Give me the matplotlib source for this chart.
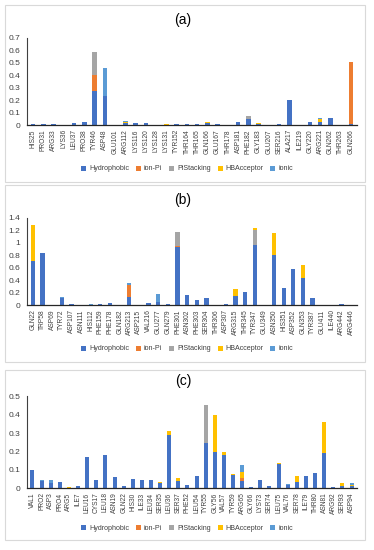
import numpy as np
import matplotlib
matplotlib.use('Agg')
import matplotlib.pyplot as plt
from matplotlib.patches import Rectangle
from matplotlib.ticker import FormatStrFormatter

plt.rcParams['font.family'] = ['Liberation Sans', 'DejaVu Sans']

series = ['Hydrophobic', 'ion-Pi', 'PiStacking', 'HBAcceptor', 'ionic']
colors = ['#4472C4', '#ED7D31', '#A5A5A5', '#FFC000', '#5B9BD5']

# panel (a)
labels_a = ['HIS25', 'PRO31', 'ARG33', 'LYS36', 'LEU37', 'PRO38', 'TYR46', 'ASP48',
            'GLU101', 'ARG112', 'LYS116', 'LYS120', 'LYS128', 'LYS131', 'TYR152',
            'THR164', 'THR165', 'GLN166', 'GLU167', 'THR178', 'ASP181', 'PHE182',
            'GLY183', 'GLU207', 'SER216', 'ALA217', 'ILE219', 'GLY220', 'ARG221',
            'GLN262', 'THR263', 'GLN266']
hydro_a = [0.005, 0.005, 0.008, 0.004, 0.015, 0.025, 0.27, 0.23, 0.0, 0.015, 0.015,
           0.015, 0.004, 0.0, 0.005, 0.008, 0.005, 0.015, 0.008, 0.004, 0.025, 0.05,
           0.005, 0.0, 0.012, 0.20, 0.004, 0.025, 0.025, 0.055, 0.004, 0.01]
ionpi_a = [0, 0, 0, 0, 0, 0, 0.13, 0, 0, 0, 0, 0, 0, 0, 0, 0, 0, 0, 0, 0, 0, 0,
           0, 0, 0, 0, 0, 0, 0, 0, 0, 0.50]
pistack_a = [0, 0, 0, 0, 0, 0, 0.19, 0, 0, 0, 0, 0, 0, 0, 0, 0, 0, 0, 0, 0, 0, 0.02,
             0, 0, 0, 0, 0, 0, 0, 0, 0, 0]
hba_a = [0, 0, 0, 0, 0, 0, 0, 0, 0, 0.012, 0, 0, 0, 0.005, 0, 0, 0, 0.008, 0, 0, 0, 0,
         0.008, 0, 0, 0, 0, 0, 0.025, 0.003, 0, 0]
ionic_a = [0, 0, 0, 0, 0, 0, 0, 0.23, 0.004, 0.008, 0, 0, 0, 0, 0, 0, 0, 0, 0.004, 0,
           0.003, 0, 0, 0.004, 0, 0, 0, 0, 0.004, 0, 0, 0]

# panel (b)
labels_b = ['GLN22', 'TRP58', 'ASP69', 'TYR72', 'ASP107', 'ASN111', 'HIS112', 'PHE159',
            'PHE178', 'GLN182', 'ARG213', 'ASP215', 'VAL216', 'GLU277', 'GLN279',
            'PHE301', 'ASN302', 'PHE303', 'SER304', 'THR306', 'ASP307', 'ARG315',
            'THR345', 'TYR347', 'GLU349', 'ASN350', 'HIS351', 'ASP352', 'GLN353',
            'TYR387', 'GLU411', 'ILE440', 'ARG442', 'ARG446']
hydro_b = [0.70, 0.83, 0, 0.12, 0.02, 0, 0.01, 0.02, 0.03, 0, 0.13, 0, 0.04, 0.05, 0.02,
           0.93, 0.16, 0.09, 0.11, 0.01, 0.015, 0.15, 0.21, 0.96, 0.005, 0.80, 0.28,
           0.58, 0.43, 0.12, 0.005, 0, 0.015, 0]
ionpi_b = [0, 0, 0, 0, 0, 0, 0, 0, 0, 0, 0.20, 0, 0, 0, 0, 0.02, 0, 0, 0, 0, 0, 0, 0,
           0, 0, 0, 0, 0, 0, 0, 0, 0, 0, 0]
pistack_b = [0, 0, 0, 0, 0, 0, 0, 0, 0, 0, 0, 0, 0, 0, 0, 0.22, 0, 0, 0, 0, 0, 0, 0,
             0.25, 0, 0, 0, 0, 0, 0, 0, 0, 0, 0]
hba_b = [0.59, 0, 0, 0, 0, 0, 0, 0, 0, 0.01, 0, 0, 0, 0, 0, 0, 0, 0, 0.01, 0, 0, 0.11,
         0, 0.02, 0, 0.35, 0, 0, 0.22, 0, 0, 0, 0.01, 0]
ionic_b = [0, 0, 0, 0.01, 0, 0, 0.005, 0, 0, 0, 0.02, 0, 0, 0.13, 0, 0, 0, 0, 0, 0, 0,
           0, 0, 0, 0.005, 0, 0, 0, 0, 0, 0.005, 0, 0, 0]

# panel (c)
labels_c = ['VAL1', 'PRO2', 'ASP3', 'PRO4', 'ARG5', 'ILE7', 'LEU16', 'CYS17', 'LEU18',
            'ASN19', 'GLN22', 'HIS30', 'ILE33', 'LEU34', 'SER35', 'LEU36', 'SER37',
            'PHE52', 'LEU54', 'TYR55', 'GLY56', 'VAL57', 'TYR59', 'ARG65', 'GLY66',
            'LYS73', 'SER74', 'LEU75', 'VAL76', 'SER78', 'ILE79', 'THR80', 'ASN81',
            'ARG92', 'SER93', 'ASP94']
hydro_c = [0.10, 0.04, 0.03, 0.035, 0, 0.015, 0.17, 0.045, 0.18, 0.06, 0.01, 0.05,
           0.045, 0.045, 0.03, 0.29, 0.04, 0.02, 0.067, 0.245, 0.20, 0.18, 0.07, 0.04,
           0.005, 0.045, 0.015, 0.134, 0.02, 0.036, 0.067, 0.085, 0.19, 0.005, 0.015,
           0.012]
ionpi_c = [0] * 23 + [0.015] + [0] * 12
pistack_c = [0] * 19 + [0.21] + [0] * 16
hba_c = [0, 0, 0, 0, 0.005, 0, 0, 0, 0, 0, 0, 0, 0, 0, 0.005, 0.02, 0.015, 0, 0, 0,
         0.20, 0.017, 0.007, 0.035, 0, 0, 0, 0.006, 0, 0.031, 0, 0, 0.17, 0, 0.012,
         0.008]
ionic_c = [0, 0.003, 0.015, 0, 0, 0, 0, 0, 0, 0, 0, 0, 0, 0, 0, 0, 0, 0, 0, 0, 0, 0,
           0, 0.038, 0, 0, 0, 0, 0.003, 0, 0, 0, 0, 0, 0, 0.01]

W, H = 374, 550
fig = plt.figure(figsize=(W / 100, H / 100), dpi=100)


def px(x0, y0, x1, y1):
    # pixel box (top-left origin) -> figure fraction rect
    return [x0 / W, 1 - y1 / H, (x1 - x0) / W, (y1 - y0) / H]


def panel(title, labels, data, ymax, ystep, box, ax_top, ax_bot, title_y, leg_y):
    bx0, by0, bx1, by1 = box
    fig.patches.append(Rectangle((bx0 / W, 1 - by1 / H), (bx1 - bx0) / W, (by1 - by0) / H,
                                 transform=fig.transFigure, fill=False,
                                 edgecolor='#D9D9D9', linewidth=0.8))
    ax = fig.add_axes(px(27, ax_top, 357, ax_bot))
    x = np.arange(len(labels))
    bottom = np.zeros(len(labels))
    for name, vals, c in zip(series, data, colors):
        vals = np.array(vals, dtype=float)
        ax.bar(x, vals, 0.44, bottom=bottom, color=c, label=name)
        bottom += vals
    ax.set_xlim(-0.6, len(labels) - 0.4)
    ax.set_ylim(0, ymax)
    ax.set_yticks(np.arange(0, ymax + ystep / 2, ystep))
    ax.yaxis.set_major_formatter(FormatStrFormatter('%g'))
    ax.set_xticks(x)
    ax.set_xticklabels(labels, rotation=90, fontsize=4.8, color='#404040')
    ax.tick_params(axis='y', labelsize=6, labelcolor='#404040', length=0, pad=5)
    ax.tick_params(axis='x', length=0, pad=3)
    for s in ['top', 'right']:
        ax.spines[s].set_visible(False)
    ax.spines['left'].set_color('#404040')
    ax.spines['bottom'].set_color('#262626')
    ax.spines['left'].set_linewidth(0.8)
    ax.spines['bottom'].set_linewidth(0.9)
    fig.text(183 / W, 1 - title_y / H, title, ha='center', va='center', fontsize=10)
    fig.legend(*ax.get_legend_handles_labels(), loc='center',
               bbox_to_anchor=(187 / W, 1 - leg_y / H), ncol=5, frameon=False,
               fontsize=5.1, handlelength=0.7, handleheight=0.7, handletextpad=0.4,
               columnspacing=1.0, labelcolor='#404040')
    return ax


panel('(a)', labels_a, [hydro_a, ionpi_a, pistack_a, hba_a, ionic_a], 0.7, 0.1,
      (5, 5, 365, 182), 38, 125, 20, 169)
panel('(b)', labels_b, [hydro_b, ionpi_b, pistack_b, hba_b, ionic_b], 1.4, 0.2,
      (5, 185, 365, 362), 217.7, 305.3, 200, 349)
panel('(c)', labels_c, [hydro_c, ionpi_c, pistack_c, hba_c, ionic_c], 0.5, 0.1,
      (5, 370, 365, 540), 396.3, 488.3, 381, 528)

fig.savefig('out.png', dpi=100)
